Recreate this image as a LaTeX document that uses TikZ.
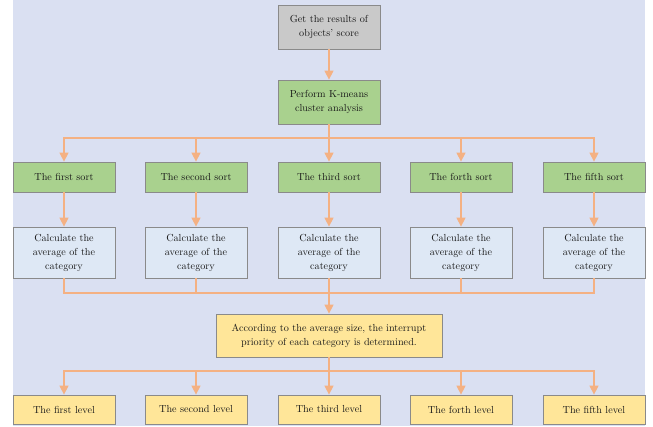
\documentclass[tikz,border=0pt]{standalone}
\usetikzlibrary{arrows.meta}
\definecolor{bgblue}{HTML}{DAE0F2}
\definecolor{boxgray}{HTML}{C9C9C9}
\definecolor{boxgreen}{HTML}{A9D18E}
\definecolor{boxblue}{HTML}{DEE8F5}
\definecolor{boxyellow}{HTML}{FFE699}
\definecolor{edgegray}{HTML}{8A8A8A}
\definecolor{linkorange}{HTML}{F4B183}
\tikzset{
  box/.style={draw=edgegray, line width=0.8pt, align=center, inner sep=2pt,
    font=\fontsize{10.2}{14}\selectfont, text=black!90},
  startbox/.style={box, fill=boxgray, minimum width=102pt, minimum height=44pt},
  greenbox/.style={box, fill=boxgreen, minimum width=102pt, minimum height=44pt},
  sortbox/.style={box, fill=boxgreen, minimum width=102pt, minimum height=30pt},
  calcbox/.style={box, fill=boxblue, minimum width=102pt, minimum height=51pt},
  rulebox/.style={box, fill=boxyellow, minimum width=226pt, minimum height=43pt},
  levelbox/.style={box, fill=boxyellow, minimum width=102pt, minimum height=29pt},
  link/.style={draw=linkorange, line width=1.4pt},
  arrow/.style={link, -{Triangle[length=9pt, width=9pt]}},
}
\begin{document}
\begin{tikzpicture}[x=1pt, y=-1pt]
  \useasboundingbox (0,0) rectangle (653,426);
  \fill[bgblue] (13,0) rectangle (645,426);

  % top chain
  \node[startbox] (get) at (329,27) {Get the results of\\objects' score};
  \node[greenbox] (km) at (329,102) {Perform K-means\\cluster analysis};

  % sorts, averages and levels in five columns
  \foreach \i/\x/\w in {1/64/first, 2/196/second, 3/329/third, 4/461/forth, 5/594/fifth} {
    \node[sortbox] (s\i) at (\x,177) {The \w\ sort};
    \node[calcbox] (c\i) at (\x,252.5) {Calculate the\\average of the\\category};
    \node[levelbox] (l\i) at (\x,409.5) {The \w\ level};
  }

  \node[rulebox] (pr) at (329,335.5)
    {According to the average size, the interrupt\\priority of each category is determined.};

  % bus points
  \coordinate (bus1) at (329,138);
  \coordinate (bus2) at (329,293);
  \coordinate (bus3) at (329,371);

  \draw[arrow] (get) -- (km);
  \draw[link] (km.south) -- (bus1);
  \foreach \i in {1,...,5} {
    \draw[arrow] (bus1) -| (s\i.north);
    \draw[arrow] (s\i) -- (c\i);
    \draw[link] (c\i.south) |- (bus2);
    \draw[arrow] (bus3) -| (l\i.north);
  }
  \draw[arrow] (bus2) -- (pr.north);
  \draw[link] (pr.south) -- (bus3);
\end{tikzpicture}
\end{document}
